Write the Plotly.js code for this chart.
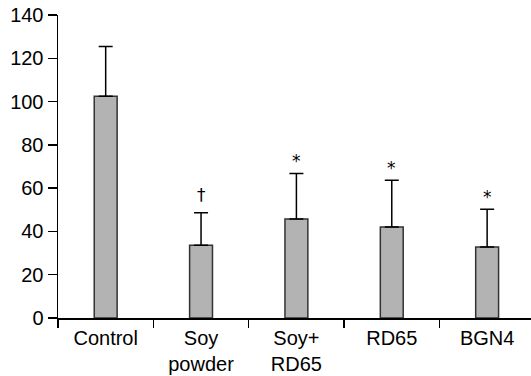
<!DOCTYPE html>
<html><head><meta charset="utf-8">
<script src="https://cdn.plot.ly/plotly-3.0.1.min.js"></script>
<style>body{margin:0;padding:0;background:#fff}#chart{width:531px;height:376px}</style>
</head><body><div id="chart"></div>
<script>
const categories = ['Control', 'Soy<br>powder', 'Soy+<br>RD65', 'RD65', 'BGN4'];
const means = [102.5, 33.6, 45.8, 42.1, 32.8];
const sdUpper = [22.9, 15.0, 21.0, 21.5, 17.4];
const marks = ['', '†', '*', '*', '*'];
const yTicks = [0, 20, 40, 60, 80, 100, 120, 140];

const fam = 'Liberation Sans, Arial, sans-serif';
const yfont = {family: fam, size: 20, color: '#000'};
const xfont = {family: fam, size: 20, color: '#000'};

const annotations = categories.map((c, i) => ({
  x: c, y: means[i] + sdUpper[i], text: marks[i], showarrow: false,
  xref: 'x', yref: 'y', yanchor: 'bottom', yshift: marks[i] === '†' ? 6 : 0,
  font: {family: 'DejaVu Sans, sans-serif', size: marks[i] === '†' ? 17 : 17, color: '#000'}
})).filter(a => a.text);

Plotly.newPlot('chart', [{
  type: 'bar', x: categories, y: means, width: 0.24,
  marker: {color: '#b3b3b3', line: {color: '#333', width: 1.5}},
  error_y: {type: 'data', symmetric: false, array: sdUpper, arrayminus: means.map(() => 0),
            color: '#000', thickness: 1.5, width: 7}
}], {
  width: 531, height: 376,
  margin: {l: 58, r: 0, t: 15, b: 58, pad: 0},
  paper_bgcolor: '#fff', plot_bgcolor: '#fff',
  showlegend: false, font: xfont, bargap: 0,
  xaxis: {type: 'category', range: [-0.5, 4.46], showline: true, linecolor: '#000', linewidth: 1.5,
          ticks: 'outside', tickson: 'boundaries', ticklen: 8, tickcolor: '#000', tickwidth: 1.5,
          ticklabelstandoff: 1,
          showgrid: false, zeroline: false, tickfont: xfont, fixedrange: true},
  yaxis: {range: [0, 140], tickvals: yTicks, ticktext: yTicks.map(String), showline: true, linecolor: '#000', linewidth: 1.5,
          ticks: 'outside', ticklen: 9, tickcolor: '#000', tickwidth: 1.5,
          showgrid: false, zeroline: false, tickfont: yfont, fixedrange: true},
  annotations: annotations
}, {staticPlot: true});
</script></body></html>
